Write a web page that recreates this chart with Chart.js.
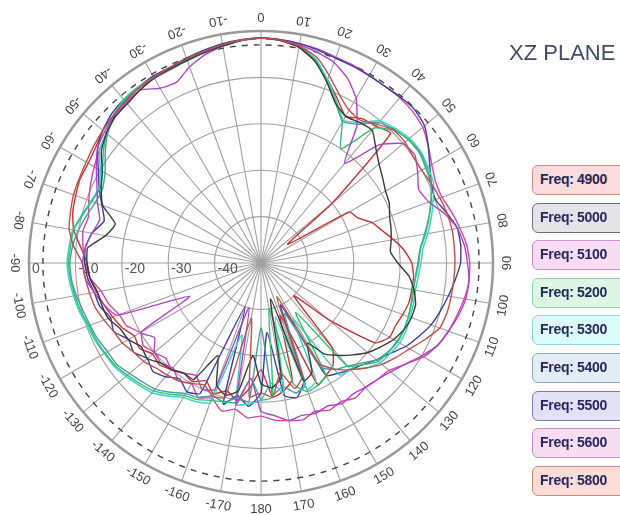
<!DOCTYPE html>
<html>
<head>
<meta charset="utf-8">
<script src="https://cdn.jsdelivr.net/npm/chart.js@4.4.1/dist/chart.umd.min.js"></script>
<style>
  html, body { margin: 0; padding: 0; background: #ffffff; }
  #wrap { position: relative; width: 620px; height: 515px; overflow: hidden; }
  #c { position: absolute; left: 0; top: 0; }
  #title { position: absolute; left: 509px; top: 40px; font-family: "Liberation Sans", Arial, sans-serif; font-size: 22px; color: #3e4a68; white-space: nowrap; }
  .lg { position: absolute; left: 532px; width: 96px; height: 30px; border-radius: 6px; box-sizing: border-box; border: 1.6px solid; font-family: "Liberation Sans Narrow", "Liberation Sans", Arial, sans-serif; font-weight: bold; font-size: 14px; letter-spacing: -0.3px; color: #26265e; line-height: 27px; padding-left: 7px; white-space: nowrap; }
</style>
</head>
<body>
<div id="wrap">
  <canvas id="c" width="620" height="515"></canvas>
  <div id="title">XZ PLANE</div>
</div>
<script>
// Angle categories (degrees, clockwise from top), 5 degree steps
const angles = [0,5,10,15,20,25,30,35,40,45,50,55,60,65,70,75,80,85,90,95,100,105,110,115,120,125,130,135,140,145,150,155,160,165,170,175,180,185,190,195,200,205,210,215,220,225,230,235,240,245,250,255,260,265,270,275,280,285,290,295,300,305,310,315,320,325,330,335,340,345,350,355];
// Angle tick labels every 10 degrees
const angleTickLabels = ['0','10','20','30','40','50','60','70','80','90','100','110','120','130','140','150','160','170','180','-170','-160','-150','-140','-130','-120','-110','-100','-90','-80','-70','-60','-50','-40','-30','-20','-10'];
// Radial (dB) tick labels
const radialTicks = [0,-10,-20,-30,-40];
const refCircle = -3;
const seriesNames = ['Freq: 4900','Freq: 5000','Freq: 5100','Freq: 5200','Freq: 5300','Freq: 5400','Freq: 5500','Freq: 5600','Freq: 5800'];

// Gain values (dB) per frequency, one per angle category
const f4900 = [-1.5,-1.8,-2.5,-4,-7,-10,-12,-12.5,-11,-9.5,-9.5,-10,-10,-9.5,-9,-8.5,-8.2,-8.2,-8.2,-8.3,-8.4,-8.5,-9,-11,-13,-14.5,-16,-18,-20,-22,-25,-42,-24,-22,-26,-21,-22,-21,-38,-20,-19.5,-21,-20,-19,-18.5,-18,-17,-16.5,-15.5,-15,-14,-13,-12.5,-12,-11.5,-9.5,-8,-7.5,-7,-6.8,-6.5,-6,-5.5,-5,-4.5,-4,-3.8,-3.5,-3.2,-2.8,-2.2,-1.8];
const f5000 = [-1.5,-1.8,-2.8,-5,-8.5,-12,-13.5,-13,-12.7,-15,-16.8,-18,-19,-19.5,-20.5,-21,-21.5,-22,-20.5,-18,-16.5,-15.5,-15.5,-16,-17,-18.5,-20,-22,-24,-26,-30,-24,-23,-42,-25,-23,-24,-30,-22,-20.5,-22,-28,-21,-21,-20,-19.5,-18,-18.5,-17,-16.5,-15,-14.5,-14.2,-13,-12.5,-12.5,-16,-17.5,-13.7,-12,-10.5,-8,-6.5,-5.5,-5.2,-4.5,-4,-3.8,-3.5,-3,-2.5,-1.8];
const f5100 = [-1.5,-1.8,-2.3,-3,-4,-6,-9,-14,-22,-14,-10,-9.5,-11,-12.5,-11.5,-9,-7,-6,-5.5,-5,-5.2,-6,-7,-8,-10,-12,-13.5,-14.5,-15,-15.5,-15,-16,-15.5,-16,-15.5,-17,-18,-25,-19,-40,-21,-20,-22,-21,-20,-21,-20,-22,-20,-33,-17,-15,-13.5,-12,-11.5,-12,-13,-14,-12.5,-11,-9,-7,-6,-5.2,-4.8,-4.5,-6.5,-7,-5,-3.5,-2.5,-1.8];
const f5200 = [-1.5,-1.8,-2.6,-4.8,-8.5,-12,-15,-20,-12,-9.5,-8.5,-8.2,-8.8,-9.5,-11,-12.5,-14,-15.5,-16,-16.5,-16.8,-16.5,-16.2,-16,-16,-16.5,-17,-19,-21,-37,-22,-21,-20.5,-23,-40,-21,-20.5,-25,-19.5,-19,-18.5,-17.5,-17,-15.5,-14,-13.2,-12.4,-11.6,-11.2,-10.8,-10.5,-9.8,-9.3,-8.8,-8.5,-8.8,-9,-10.2,-11.2,-11.8,-10.5,-8.5,-6.5,-5,-4.2,-3.9,-3.8,-3.7,-3.4,-3,-2.5,-1.8];
const f5300 = [-1.5,-1.8,-2.6,-4.5,-8,-11.5,-14.5,-13,-10,-9,-8.2,-8,-8.5,-9,-10.5,-12,-13.5,-15,-15.5,-16,-16.2,-16,-15.8,-15.5,-15.5,-16,-16.5,-18,-20,-20.5,-36,-22,-21,-38,-21.5,-24,-20.5,-19.5,-19,-34,-18,-17,-16.5,-15,-13.5,-12.8,-12,-11.3,-11,-10.5,-10.2,-9.5,-9,-8.5,-8.2,-8.5,-8.8,-10,-11,-11.5,-10,-7.5,-6.5,-5,-4,-3.8,-3.8,-3.8,-3.5,-3,-2.5,-1.8];
const f5400 = [-1.5,-1.8,-2.7,-4.6,-8.2,-11.8,-14.8,-13.5,-10.5,-9.3,-8.6,-8.4,-9,-9.6,-11,-12.6,-14.2,-15.6,-16.2,-16.6,-16.6,-16.4,-16.2,-16,-16.2,-16.6,-17.5,-19.5,-21,-22,-24,-38,-22,-21,-23,-21.5,-36,-20,-20.5,-19,-19.5,-18,-17.5,-16,-14.5,-13.8,-13,-12,-11.8,-11.2,-10.8,-10.3,-9.6,-9,-8.8,-9.2,-10,-11,-12,-12.3,-11.2,-9,-6.8,-5.2,-4.3,-4,-3.9,-3.9,-3.6,-3.1,-2.6,-1.8];
const f5500 = [-1.5,-1.7,-2,-2.5,-3,-3.2,-3.4,-3.5,-3.3,-3.2,-4,-6,-8,-9.5,-10,-8.5,-7,-6.8,-7,-8,-9,-10,-11,-12.5,-14,-16,-17.5,-19,-20,-21,-22,-40,-23,-20,-21,-35,-22,-19,-21,-18.5,-40,-19,-18,-19.5,-18,-17,-18,-16.5,-17,-15,-15.5,-14,-13.5,-12.5,-12,-12,-13,-15,-13.5,-11.5,-9.5,-7,-5.5,-4.5,-4,-3.8,-3.5,-3.5,-3,-2.5,-2,-1.7];
const f5600 = [-1.5,-1.7,-2,-2.3,-2.8,-3,-3.3,-3.5,-3.5,-3.8,-4.5,-6,-7.5,-8.5,-8.5,-7.5,-6.5,-5.5,-5,-5,-5.5,-6.3,-7,-8,-9.5,-12,-14,-14.5,-15,-14.5,-15.5,-15,-16,-15,-15.5,-16,-17,-16.5,-18,-17,-19,-18,-20,-19,-20.5,-19.5,-20,-19,-20,-18,-17.5,-16,-15,-13,-12,-11.5,-11,-11.5,-10.5,-9.5,-8.5,-7.5,-6.5,-5.5,-5,-4.5,-4,-4,-3.5,-2.8,-2.2,-1.7];
const f5800 = [-1.5,-1.9,-2.8,-5,-8,-11,-13.5,-12,-11.5,-10.5,-30,-43,-28,-27,-24.5,-23,-21,-19,-17.5,-17,-17,-17,-17.5,-18,-18,-20,-31,-40,-26,-23,-22,-21,-38,-24,-22,-21,-27,-23,-20,-21.5,-20,-22,-20.5,-21,-20,-19,-19.5,-18,-18.5,-17,-16,-15,-14,-13,-12.5,-11,-9,-8,-7.5,-7,-7,-6.5,-5.5,-5,-4.5,-4,-4,-3.8,-3.5,-3,-2.3,-1.9];

const seriesValues = [f4900,f5000,f5100,f5200,f5300,f5400,f5500,f5600,f5800];
const lineColors = ['#c0504a','#3a3a3a','#b044c8','#30c070','#34d2c8','#4a98a8','#3c3ca0','#d444aa','#c83232'];
const boxFill = ['#fbdcdc','#e3e3ea','#f8dcf4','#dcf8e4','#dcfafa','#e3edf6','#e2e2f6','#f8dcf2','#fbdcd6'];
const boxBorder = ['#d48a84','#6e6e78','#c890cc','#8cd4a8','#8cdad4','#8aa8b8','#7a7aa4','#c890c8','#cc8c80'];

// HTML legend
const wrap = document.getElementById('wrap');
seriesNames.forEach((name, i) => {
  const d = document.createElement('div');
  d.className = 'lg';
  d.style.top = (165 + i * 37.6) + 'px';
  d.style.background = boxFill[i];
  d.style.borderColor = boxBorder[i];
  d.textContent = name;
  wrap.appendChild(d);
});

const polarDecor = {
  id: 'polarDecor',
  beforeDatasetsDraw(chart) {
    const s = chart.scales.r;
    const ctx = chart.ctx;
    ctx.save();
    // dashed reference circle
    ctx.beginPath();
    ctx.setLineDash([6, 6]);
    ctx.strokeStyle = '#444';
    ctx.lineWidth = 1.4;
    ctx.arc(s.xCenter, s.yCenter, s.getDistanceFromCenterForValue(refCircle), 0, Math.PI * 2);
    ctx.stroke();
    ctx.setLineDash([]);
    // radial tick labels along the left axis
    ctx.font = '14px "Liberation Sans", Arial, sans-serif';
    ctx.fillStyle = '#555';
    ctx.textAlign = 'left';
    ctx.textBaseline = 'middle';
    radialTicks.forEach(v => {
      const d = s.getDistanceFromCenterForValue(v);
      ctx.fillText(String(v), s.xCenter - d + 3, s.yCenter + 6);
    });
    ctx.restore();
  },
  afterDraw(chart) {
    const s = chart.scales.r;
    const ctx = chart.ctx;
    ctx.save();
    ctx.font = '13px "Liberation Sans", Arial, sans-serif';
    ctx.fillStyle = '#444';
    ctx.textAlign = 'center';
    ctx.textBaseline = 'middle';
    angleTickLabels.forEach((t, k) => {
      const p = s.getPointPosition(k * 2, s.drawingArea + 14);
      ctx.save();
      ctx.translate(p.x, p.y);
      ctx.rotate(p.angle - Math.PI / 2);
      ctx.fillText(t, 0, 0);
      ctx.restore();
    });
    ctx.restore();
  }
};

new Chart(document.getElementById('c'), {
  type: 'radar',
  data: {
    labels: angles,
    datasets: seriesValues.map((vals, i) => ({
      label: seriesNames[i],
      data: vals,
      borderColor: lineColors[i],
      borderWidth: 1.4,
      pointRadius: 0,
      fill: false,
      tension: 0.15
    }))
  },
  options: {
    responsive: false,
    animation: false,
    layout: { padding: { left: 29, top: 31, right: 127, bottom: 20 } },
    plugins: { legend: { display: false }, tooltip: { enabled: false } },
    scales: {
      r: {
        min: -50,
        max: 0,
        ticks: { display: false, stepSize: 10 },
        pointLabels: { display: false },
        grid: {
          circular: true,
          color: (c) => (c.tick && c.tick.value === 0) ? '#999999' : '#a0a0a0',
          lineWidth: (c) => (c.tick && c.tick.value === 0) ? 2.5 : 1.1
        },
        angleLines: {
          color: (c) => (c.index % 2 === 0) ? '#a0a0a0' : 'rgba(0,0,0,0)',
          lineWidth: 1.1
        }
      }
    }
  },
  plugins: [polarDecor]
});
</script>
</body>
</html>
